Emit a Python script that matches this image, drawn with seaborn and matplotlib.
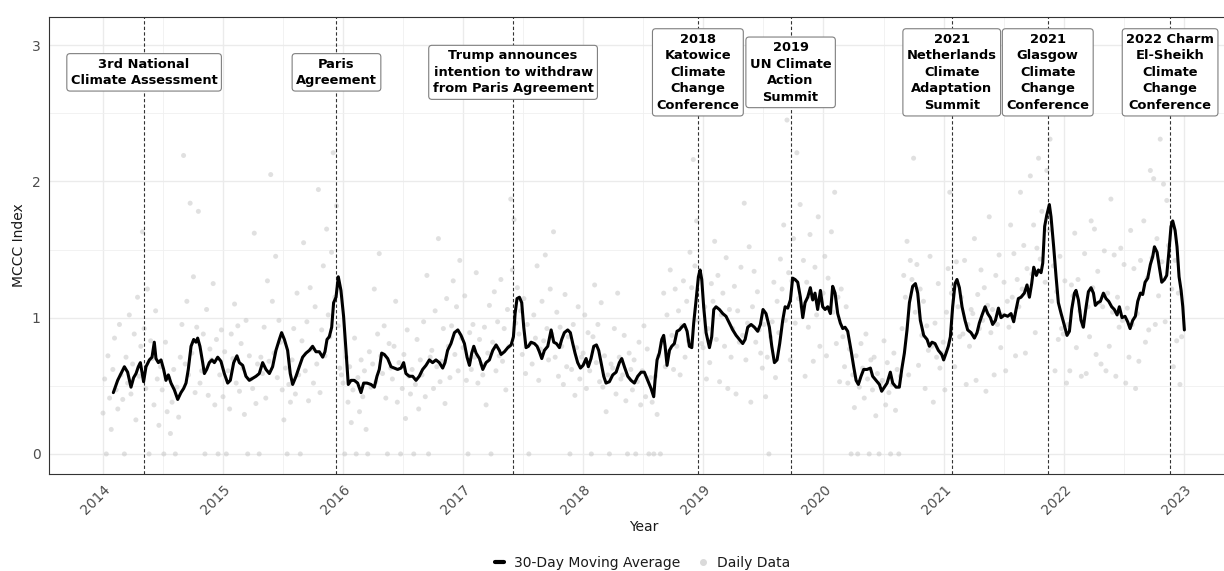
import numpy as np
import pandas as pd
import matplotlib
matplotlib.use("Agg")
import matplotlib.pyplot as plt
import matplotlib.dates as mdates
from matplotlib.lines import Line2D
import seaborn as sns

# ---------------------------------------------------------------- data
# 30-day moving average of the MCCC index (decimal year, value)
ma_year = [
    2014.086, 2014.122, 2014.150, 2014.178, 2014.205, 2014.233, 2014.255, 2014.275, 2014.294, 2014.311,
    2014.338, 2014.358, 2014.386, 2014.408, 2014.427, 2014.441, 2014.461, 2014.483, 2014.505, 2014.524,
    2014.544, 2014.566, 2014.594, 2014.622, 2014.649, 2014.671, 2014.691, 2014.710, 2014.733, 2014.755,
    2014.774, 2014.788, 2014.807, 2014.830, 2014.844, 2014.863, 2014.885, 2014.907, 2014.927, 2014.955,
    2014.982, 2015.010, 2015.038, 2015.060, 2015.088, 2015.115, 2015.135, 2015.163, 2015.190, 2015.218,
    2015.274, 2015.301, 2015.329, 2015.357, 2015.385, 2015.412, 2015.440, 2015.468, 2015.487, 2015.510,
    2015.537, 2015.559, 2015.579, 2015.607, 2015.634, 2015.662, 2015.690, 2015.718, 2015.745, 2015.773,
    2015.801, 2015.829, 2015.848, 2015.865, 2015.884, 2015.904, 2015.920, 2015.940, 2015.959, 2015.981,
    2016.003, 2016.023, 2016.042, 2016.065, 2016.092, 2016.120, 2016.148, 2016.170, 2016.198, 2016.231,
    2016.259, 2016.281, 2016.300, 2016.320, 2016.342, 2016.370, 2016.398, 2016.425, 2016.453, 2016.481,
    2016.503, 2016.522, 2016.550, 2016.578, 2016.606, 2016.633, 2016.661, 2016.689, 2016.717, 2016.744,
    2016.772, 2016.800, 2016.828, 2016.847, 2016.869, 2016.897, 2016.926, 2016.954, 2016.981, 2017.009,
    2017.031, 2017.051, 2017.070, 2017.087, 2017.106, 2017.134, 2017.162, 2017.189, 2017.217, 2017.245,
    2017.273, 2017.300, 2017.314, 2017.342, 2017.370, 2017.398, 2017.417, 2017.431, 2017.447, 2017.467,
    2017.486, 2017.503, 2017.522, 2017.542, 2017.564, 2017.592, 2017.614, 2017.633, 2017.653, 2017.675,
    2017.703, 2017.731, 2017.753, 2017.775, 2017.800, 2017.819, 2017.841, 2017.869, 2017.891, 2017.911,
    2017.930, 2017.952, 2017.975, 2017.997, 2018.022, 2018.041, 2018.063, 2018.086, 2018.108, 2018.127,
    2018.147, 2018.169, 2018.188, 2018.216, 2018.244, 2018.272, 2018.299, 2018.319, 2018.341, 2018.369,
    2018.396, 2018.424, 2018.452, 2018.480, 2018.507, 2018.535, 2018.563, 2018.585, 2018.596, 2018.613,
    2018.632, 2018.652, 2018.668, 2018.680, 2018.696, 2018.716, 2018.735, 2018.757, 2018.779, 2018.799,
    2018.818, 2018.841, 2018.863, 2018.882, 2018.902, 2018.918, 2018.938, 2018.957, 2018.971, 2018.985,
    2019.001, 2019.021, 2019.049, 2019.068, 2019.085, 2019.104, 2019.132, 2019.160, 2019.187, 2019.215,
    2019.243, 2019.271, 2019.298, 2019.326, 2019.346, 2019.368, 2019.396, 2019.423, 2019.451, 2019.473,
    2019.495, 2019.520, 2019.548, 2019.568, 2019.590, 2019.612, 2019.634, 2019.659, 2019.679, 2019.701,
    2019.723, 2019.742, 2019.762, 2019.784, 2019.806, 2019.826, 2019.845, 2019.867, 2019.889, 2019.909,
    2019.928, 2019.950, 2019.973, 2019.992, 2020.012, 2020.034, 2020.056, 2020.075, 2020.095, 2020.117,
    2020.139, 2020.159, 2020.178, 2020.200, 2020.228, 2020.250, 2020.270, 2020.289, 2020.311, 2020.333,
    2020.361, 2020.389, 2020.408, 2020.436, 2020.464, 2020.483, 2020.506, 2020.528, 2020.555, 2020.575,
    2020.603, 2020.630, 2020.650, 2020.672, 2020.694, 2020.714, 2020.741, 2020.764, 2020.783, 2020.805,
    2020.833, 2020.861, 2020.880, 2020.902, 2020.927, 2020.955, 2020.983, 2020.999, 2021.019, 2021.038,
    2021.055, 2021.074, 2021.094, 2021.110, 2021.130, 2021.152, 2021.177, 2021.199, 2021.227, 2021.255,
    2021.277, 2021.296, 2021.319, 2021.344, 2021.366, 2021.388, 2021.407, 2021.430, 2021.455, 2021.477,
    2021.505, 2021.532, 2021.560, 2021.582, 2021.602, 2021.621, 2021.643, 2021.671, 2021.693, 2021.713,
    2021.732, 2021.749, 2021.771, 2021.788, 2021.810, 2021.824, 2021.840, 2021.857, 2021.879, 2021.893,
    2021.915, 2021.935, 2021.954, 2021.977, 2021.999, 2022.026, 2022.046, 2022.065, 2022.088, 2022.101,
    2022.121, 2022.143, 2022.162, 2022.185, 2022.204, 2022.226, 2022.246, 2022.262, 2022.282, 2022.304,
    2022.329, 2022.351, 2022.373, 2022.398, 2022.420, 2022.443, 2022.462, 2022.484, 2022.509, 2022.531,
    2022.551, 2022.573, 2022.595, 2022.615, 2022.637, 2022.656, 2022.676, 2022.698, 2022.720, 2022.740,
    2022.754, 2022.776, 2022.795, 2022.815, 2022.837, 2022.856, 2022.873, 2022.892, 2022.906, 2022.926,
    2022.942, 2022.959, 2022.976, 2022.990, 2023.003,
]
ma_value = [
    0.45, 0.54, 0.59, 0.64, 0.60, 0.49, 0.56, 0.59, 0.64, 0.67,
    0.53, 0.64, 0.69, 0.71, 0.82, 0.70, 0.67, 0.69, 0.62, 0.54,
    0.58, 0.52, 0.47, 0.40, 0.45, 0.48, 0.52, 0.62, 0.79, 0.84,
    0.82, 0.85, 0.79, 0.67, 0.59, 0.62, 0.67, 0.69, 0.67, 0.71,
    0.68, 0.59, 0.52, 0.54, 0.67, 0.72, 0.67, 0.65, 0.57, 0.54,
    0.57, 0.59, 0.67, 0.62, 0.59, 0.64, 0.76, 0.84, 0.89, 0.84,
    0.76, 0.59, 0.51, 0.57, 0.64, 0.71, 0.74, 0.76, 0.79, 0.75,
    0.75, 0.71, 0.75, 0.84, 0.86, 0.93, 1.11, 1.15, 1.30, 1.20,
    1.01, 0.76, 0.51, 0.54, 0.54, 0.52, 0.45, 0.52, 0.52, 0.51,
    0.49, 0.57, 0.62, 0.74, 0.73, 0.70, 0.64, 0.63, 0.62, 0.63,
    0.67, 0.59, 0.57, 0.57, 0.54, 0.57, 0.62, 0.65, 0.69, 0.67,
    0.69, 0.67, 0.63, 0.67, 0.76, 0.81, 0.89, 0.91, 0.87, 0.81,
    0.71, 0.65, 0.74, 0.79, 0.74, 0.70, 0.62, 0.67, 0.69, 0.76,
    0.80, 0.76, 0.73, 0.75, 0.78, 0.80, 0.86, 1.03, 1.14, 1.15,
    1.11, 0.93, 0.78, 0.79, 0.82, 0.81, 0.79, 0.75, 0.70, 0.76,
    0.79, 0.91, 0.82, 0.81, 0.78, 0.84, 0.89, 0.91, 0.89, 0.81,
    0.74, 0.67, 0.63, 0.65, 0.70, 0.64, 0.70, 0.79, 0.80, 0.76,
    0.67, 0.57, 0.52, 0.53, 0.58, 0.60, 0.67, 0.70, 0.64, 0.57,
    0.54, 0.52, 0.57, 0.60, 0.60, 0.54, 0.48, 0.42, 0.54, 0.69,
    0.74, 0.84, 0.87, 0.79, 0.65, 0.76, 0.79, 0.81, 0.90, 0.91,
    0.93, 0.95, 0.90, 0.79, 0.78, 0.96, 1.13, 1.30, 1.35, 1.28,
    1.08, 0.89, 0.78, 0.86, 1.06, 1.08, 1.06, 1.03, 1.01, 0.96,
    0.91, 0.87, 0.84, 0.81, 0.84, 0.93, 0.95, 0.93, 0.90, 0.95,
    1.06, 1.03, 0.93, 0.79, 0.67, 0.69, 0.81, 0.98, 1.08, 1.07,
    1.13, 1.29, 1.28, 1.26, 1.15, 1.00, 1.11, 1.15, 1.22, 1.13,
    1.18, 1.06, 1.20, 1.08, 1.06, 1.08, 1.03, 1.23, 1.18, 1.03,
    0.96, 0.92, 0.93, 0.90, 0.76, 0.64, 0.54, 0.51, 0.57, 0.62,
    0.62, 0.63, 0.57, 0.54, 0.51, 0.46, 0.49, 0.52, 0.60, 0.52,
    0.49, 0.49, 0.62, 0.74, 0.91, 1.11, 1.23, 1.25, 1.18, 0.98,
    0.87, 0.84, 0.79, 0.82, 0.81, 0.76, 0.73, 0.69, 0.74, 0.79,
    0.86, 1.08, 1.25, 1.28, 1.22, 1.08, 0.98, 0.91, 0.89, 0.85,
    0.89, 0.96, 1.02, 1.08, 1.03, 1.00, 0.95, 0.98, 1.07, 1.00,
    1.02, 1.01, 1.03, 0.97, 1.06, 1.14, 1.15, 1.18, 1.24, 1.15,
    1.25, 1.37, 1.31, 1.35, 1.33, 1.40, 1.67, 1.75, 1.83, 1.74,
    1.52, 1.30, 1.11, 1.03, 0.96, 0.87, 0.90, 1.06, 1.18, 1.20,
    1.13, 0.98, 0.93, 1.08, 1.19, 1.22, 1.18, 1.09, 1.11, 1.12,
    1.18, 1.14, 1.12, 1.08, 1.06, 1.02, 1.08, 1.00, 1.01, 0.97,
    0.92, 0.98, 1.01, 1.12, 1.18, 1.17, 1.26, 1.29, 1.39, 1.45,
    1.52, 1.48, 1.37, 1.26, 1.28, 1.31, 1.47, 1.67, 1.71, 1.64,
    1.52, 1.30, 1.20, 1.08, 0.91,
]

# daily index, sampled every fifth day from 1 January 2014 (73 values a year)
daily_2014 = [
    0.30, 0.55, 0.00, 0.72, 0.41, 0.18, 0.62, 0.85, 0.47, 0.33, 0.95, 0.58,
    0.40, 0.00, 0.71, 0.52, 1.02, 0.44, 0.66, 0.88, 0.25, 1.15, 0.57, 0.79,
    1.63, 0.92, 0.48, 1.21, 0.00, 0.83, 0.70, 0.36, 1.05, 0.55, 0.21, 0.64,
    0.47, 0.00, 0.82, 0.31, 0.56, 0.15, 0.38, 0.62, 0.00, 0.49, 0.27, 0.71,
    0.95, 2.19, 0.66, 1.12, 0.58, 1.84, 0.74, 1.30, 0.45, 0.93, 1.78, 0.52,
    0.61, 0.88, 0.00, 1.06, 0.43, 0.77, 0.69, 1.25, 0.36, 0.84, 0.00, 0.58, 0.91,
]
daily_2015 = [
    0.42, 0.75, 0.00, 0.61, 0.33, 0.88, 0.70, 1.10, 0.52, 0.94, 0.46, 0.81,
    0.63, 0.29, 0.98, 0.00, 0.72, 0.55, 0.48, 1.62, 0.37, 0.66, 0.00, 0.71,
    0.59, 0.93, 0.41, 1.27, 0.68, 2.05, 1.12, 0.74, 1.45, 0.56, 0.98, 0.82,
    0.47, 0.25, 0.63, 0.00, 0.51, 0.38, 0.69, 0.92, 0.44, 1.18, 0.58, 0.00,
    0.83, 1.55, 0.61, 0.97, 0.39, 1.22, 0.77, 0.52, 1.08, 0.66, 1.94, 0.45,
    0.91, 1.38, 0.72, 1.65, 1.02, 0.86, 1.48, 2.21, 1.15, 1.82, 0.94, 0.63, 0.58,
]
daily_2016 = [
    0.52, 0.00, 0.71, 0.38, 0.64, 0.23, 0.47, 0.85, 0.00, 0.56, 0.31, 0.69,
    0.42, 0.61, 0.18, 0.00, 0.75, 0.49, 0.66, 1.21, 0.53, 0.88, 1.47, 0.72,
    0.59, 0.94, 0.41, 0.00, 0.81, 0.63, 0.55, 0.79, 1.12, 0.38, 0.67, 0.00,
    0.48, 0.73, 0.26, 0.91, 0.57, 0.44, 0.62, 0.00, 0.51, 0.84, 0.33, 0.69,
    0.58, 0.97, 0.42, 1.31, 0.00, 0.71, 0.76, 0.48, 1.05, 0.64, 1.58, 0.53,
    0.68, 0.92, 0.37, 1.14, 0.79, 0.56, 0.94, 1.27, 0.73, 1.08, 0.61, 1.42, 0.85,
]
daily_2017 = [
    0.78, 1.16, 0.54, 0.00, 0.89, 0.62, 0.95, 0.71, 1.33, 0.52, 0.84, 0.66,
    0.58, 0.93, 0.36, 0.74, 1.09, 0.00, 0.82, 1.19, 0.61, 0.97, 0.72, 1.28,
    0.68, 0.92, 0.47, 1.06, 0.79, 1.87, 1.35, 1.72, 0.96, 1.22, 0.88, 1.05,
    0.73, 1.14, 0.59, 0.95, 0.00, 0.81, 0.66, 1.02, 0.85, 1.38, 0.54, 0.77,
    1.12, 0.83, 1.46, 0.92, 0.69, 1.21, 0.88, 1.63, 0.71, 1.04, 0.57, 0.93,
    0.79, 0.51, 1.17, 0.64, 0.86, 0.00, 0.62, 0.95, 0.43, 0.78, 1.08, 0.55, 0.71,
]
daily_2018 = [
    0.74, 1.02, 0.48, 0.89, 0.61, 0.00, 0.86, 1.24, 0.67, 0.95, 0.53, 1.11,
    0.49, 0.72, 0.31, 0.58, 0.00, 0.66, 0.63, 0.92, 0.44, 1.18, 0.71, 0.55,
    0.58, 0.87, 0.39, 0.00, 0.74, 0.62, 0.47, 0.69, 0.00, 0.53, 0.82, 0.36,
    0.61, 0.94, 0.42, 0.77, 0.00, 0.56, 0.38, 0.00, 0.57, 0.29, 0.72, 0.00,
    0.82, 1.18, 0.64, 1.02, 0.75, 1.35, 0.87, 0.62, 1.21, 0.79, 1.05, 0.58,
    0.94, 1.27, 0.71, 1.12, 0.83, 1.48, 1.22, 2.16, 1.38, 1.71, 0.98, 1.29, 0.81,
]
daily_2019 = [
    0.78, 1.08, 0.55, 0.92, 0.67, 1.25, 1.12, 1.56, 0.84, 1.31, 0.53, 1.02,
    1.18, 0.79, 1.44, 0.48, 1.06, 0.71, 0.92, 1.23, 0.44, 1.05, 0.82, 1.37,
    0.87, 1.84, 0.69, 0.96, 1.52, 0.38, 1.08, 1.34, 0.82, 1.19, 0.91, 0.74,
    0.63, 0.95, 0.42, 0.71, 0.00, 0.86, 0.97, 1.26, 0.56, 1.12, 0.89, 1.43,
    1.21, 1.68, 0.98, 2.45, 1.33, 0.69, 1.27, 1.58, 0.96, 2.21, 1.14, 1.83,
    1.08, 1.42, 0.57, 1.26, 0.93, 1.61, 1.15, 0.68, 1.37, 1.02, 1.74, 0.79, 1.11,
]
daily_2020 = [
    1.18, 1.45, 0.72, 1.29, 1.07, 1.63, 1.04, 1.92, 0.81, 1.15, 0.53, 1.21,
    0.86, 0.64, 1.08, 0.52, 0.77, 0.00, 0.58, 0.34, 0.72, 0.00, 0.49, 0.81,
    0.63, 0.41, 0.88, 0.55, 0.00, 0.69, 0.47, 0.71, 0.28, 0.59, 0.00, 0.52,
    0.54, 0.83, 0.36, 0.67, 0.45, 0.00, 0.51, 0.74, 0.32, 0.62, 0.00, 0.57,
    0.92, 1.31, 1.15, 1.56, 0.58, 1.42, 1.28, 2.17, 1.04, 1.39, 0.65, 1.21,
    0.87, 1.12, 0.48, 0.94, 0.76, 1.45, 0.79, 0.38, 0.96, 0.71, 1.25, 0.63, 0.74,
]
daily_2021 = [
    0.82, 0.47, 1.04, 1.36, 1.92, 1.18, 1.23, 0.64, 1.41, 1.08, 0.86, 1.15,
    0.88, 1.42, 0.51, 0.95, 0.79, 1.06, 1.03, 1.58, 0.54, 1.17, 0.92, 1.35,
    0.98, 1.22, 0.46, 1.09, 1.74, 0.89, 1.06, 0.58, 1.31, 0.95, 1.46, 0.78,
    1.02, 1.26, 0.61, 1.12, 0.93, 1.68, 1.15, 1.47, 0.72, 1.28, 1.08, 1.92,
    1.21, 1.53, 0.74, 1.36, 1.17, 2.04, 1.32, 1.68, 0.89, 1.51, 2.17, 1.43,
    1.78, 2.58, 1.26, 2.08, 1.64, 2.31, 1.12, 1.38, 0.61, 1.19, 0.84, 1.45, 0.92,
]
daily_2022 = [
    0.88, 1.27, 0.52, 0.95, 0.61, 1.24, 1.16, 1.62, 0.78, 1.28, 1.05, 0.57,
    0.94, 1.47, 0.59, 1.08, 0.86, 1.71, 1.22, 1.65, 0.73, 1.34, 1.11, 0.66,
    1.08, 1.49, 0.61, 1.18, 0.79, 1.87, 1.04, 1.46, 0.57, 1.15, 0.93, 1.51,
    0.98, 1.39, 0.52, 1.07, 0.71, 1.64, 0.95, 1.36, 0.48, 1.03, 0.68, 1.42,
    1.18, 1.71, 0.82, 1.29, 0.91, 2.08, 1.44, 2.02, 0.95, 1.58, 1.16, 2.31,
    1.41, 1.98, 0.97, 1.86, 1.53, 2.54, 1.21, 0.64, 1.42, 0.83, 1.18, 0.51, 0.86,
]

event_labels = [
    "3rd National\nClimate Assessment",
    "Paris\nAgreement",
    "Trump announces\nintention to withdraw\nfrom Paris Agreement",
    "2018\nKatowice\nClimate\nChange\nConference",
    "2019\nUN Climate\nAction\nSummit",
    "2021\nNetherlands\nClimate\nAdaptation\nSummit",
    "2021\nGlasgow\nClimate\nChange\nConference",
    "2022 Charm\nEl-Sheikh\nClimate\nChange\nConference",
]
event_dates = [
    "2014-05-06", "2015-12-12", "2017-06-01", "2018-12-15",
    "2019-09-23", "2021-01-25", "2021-11-13", "2022-11-20",
]
label_y = 2.8

# ---------------------------------------------------------------- frames
def year_to_date(y):
    y = np.asarray(y, dtype=float)
    return pd.Timestamp("2014-01-01") + pd.to_timedelta((y - 2014.0) * 365.25, unit="D")

ma_df = pd.DataFrame({"date": year_to_date(ma_year), "index": ma_value})

daily_values = (daily_2014 + daily_2015 + daily_2016 + daily_2017 + daily_2018
                + daily_2019 + daily_2020 + daily_2021 + daily_2022)
daily_df = pd.DataFrame({
    "date": pd.date_range("2014-01-01", periods=len(daily_values), freq="5D"),
    "index": daily_values,
})

# ---------------------------------------------------------------- figure
sns.set_theme(style="white")
plt.rcParams["font.family"] = ["DejaVu Sans"]

fig = plt.figure(figsize=(12.24, 5.71), dpi=100)
ax = fig.add_axes([0.0400, 0.1699, 0.9714, 0.8003])

sns.scatterplot(data=daily_df, x="date", y="index", ax=ax, color="#c8c8c8",
                alpha=0.55, s=13, edgecolor="none", zorder=2)
sns.lineplot(data=ma_df, x="date", y="index", ax=ax, color="black",
             linewidth=2.2, zorder=4)

x0 = pd.Timestamp("2014-01-01") - pd.Timedelta(days=164.35)
x1 = pd.Timestamp("2023-01-01") + pd.Timedelta(days=164.35)
ax.set_xlim(x0, x1)
ax.set_ylim(-0.147, 3.206)

ax.xaxis.set_major_locator(mdates.YearLocator())
ax.xaxis.set_major_formatter(mdates.DateFormatter("%Y"))
ax.xaxis.set_minor_locator(mdates.MonthLocator(bymonth=7, bymonthday=2))
ax.set_yticks([0, 1, 2, 3])
ax.set_yticks([0.5, 1.5, 2.5], minor=True)

ax.grid(which="major", color="#ebebeb", linewidth=1.0, zorder=0)
ax.grid(which="minor", color="#f0f0f0", linewidth=0.6, zorder=0)
ax.set_axisbelow(True)

for side in ["left", "bottom", "top"]:
    ax.spines[side].set_color("#333333")
    ax.spines[side].set_linewidth(0.8)
ax.spines["right"].set_visible(False)

ax.tick_params(axis="both", which="both", length=0, labelsize=10, labelcolor="#4d4d4d")
ax.tick_params(axis="x", pad=6)
ax.tick_params(axis="y", pad=6)
for lab in ax.get_xticklabels():
    lab.set_rotation(45)
    lab.set_ha("right")
    lab.set_va("top")
    lab.set_rotation_mode("anchor")

ax.set_xlabel("Year", fontsize=10, color="#1a1a1a", labelpad=2)
ax.set_ylabel("MCCC Index", fontsize=10, color="#1a1a1a", labelpad=4)

# event markers and their labels
for d, txt in zip(event_dates, event_labels):
    dt = pd.Timestamp(d)
    ax.axvline(dt, color="#333333", linewidth=0.8, linestyle=(0, (3, 2)), zorder=3)
    ax.text(dt, label_y, txt, ha="center", va="center", fontsize=9.4,
            fontweight="bold", color="black", linespacing=1.36, zorder=6,
            bbox=dict(boxstyle="round,pad=0.3,rounding_size=0.25",
                      facecolor="white", edgecolor="#7f7f7f", linewidth=0.8))

# legend below the panel
handles = [
    Line2D([0], [0], color="black", linewidth=3),
    Line2D([0], [0], marker="o", linestyle="", color="#dadada", markersize=4),
]
fig.legend(handles, ["30-Day Moving Average", "Daily Data"], loc="center",
           bbox_to_anchor=(643 / 1224, 1 - 563 / 571), ncol=2, frameon=False,
           fontsize=10, handlelength=0.6, handletextpad=0.7, columnspacing=1.4,
           labelcolor="#1a1a1a")

fig.savefig("out.png", dpi=100, facecolor="white")
